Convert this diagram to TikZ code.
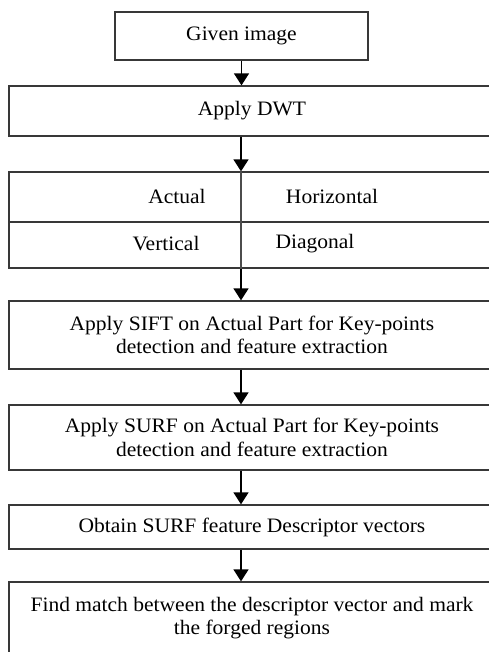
\documentclass[tikz,border=0pt]{standalone}
\usepackage{fontspec}
\setmainfont{Liberation Serif}[FakeStretch=1.05]
\usetikzlibrary{arrows.meta}
\begin{document}
\begin{tikzpicture}[x=1pt,y=-1pt,
  every node/.style={font=\fontsize{20.5}{23.5}\selectfont},
  stepbox/.style={draw=black!78, line width=1.3pt, rectangle, inner sep=0pt, align=center},
  arr/.style={draw=black, line width=1.4pt, -{Triangle[width=15pt,length=12pt]}},
  lbl/.style={inner sep=0pt, anchor=center}]
  \useasboundingbox (0,0) rectangle (489,652);
  \clip (0,0) rectangle (489,652);
  % boxes of the flow
  \node[stepbox, minimum width=253pt, minimum height=48pt] (given) at (241.5,36) {Given image};
  \node[stepbox, minimum width=486pt, minimum height=50pt] (dwt) at (252,111) {Apply DWT};
  \node[stepbox, minimum width=486pt, minimum height=96pt] (split) at (252,220) {};
  \node[stepbox, minimum width=486pt, minimum height=68pt] (sift) at (252,335)
    {Apply SIFT on Actual Part for Key-points\\detection and feature extraction};
  \node[stepbox, minimum width=486pt, minimum height=65pt] (surf) at (252,437.5)
    {Apply SURF on Actual Part for Key-points\\detection and feature extraction};
  \node[stepbox, minimum width=486pt, minimum height=44pt] (desc) at (252,527)
    {Obtain SURF feature Descriptor vectors};
  \node[stepbox, minimum width=486pt, minimum height=72pt] (match) at (252,618)
    {Find match between the descriptor vector and mark\\the forged regions};
  % four sub-bands of the wavelet decomposition
  \coordinate (mid) at (241,222);
  \draw[draw=black!78, line width=1.3pt] (split.west |- mid) -- (split.east |- mid);
  \draw[draw=black!70, line width=1.1pt] (mid |- split.north) -- (mid |- split.south);
  \node[lbl] (ca) at (177,196) {Actual};
  \node[lbl] (ch) at (332,196) {Horizontal};
  \node[lbl] (cv) at (166,244) {Vertical};
  \node[lbl] (cd) at (315,244) {Diagonal};
  % connectors
  \draw[arr] (given.south) -- (given.south |- dwt.north);
  \draw[arr] (mid |- dwt.south) -- (mid |- split.north);
  \draw[arr] (mid |- split.south) -- (mid |- sift.north);
  \draw[arr] (mid |- sift.south) -- (mid |- surf.north);
  \draw[arr] (mid |- surf.south) -- (mid |- desc.north);
  \draw[arr] (mid |- desc.south) -- (mid |- match.north);
\end{tikzpicture}
\end{document}
